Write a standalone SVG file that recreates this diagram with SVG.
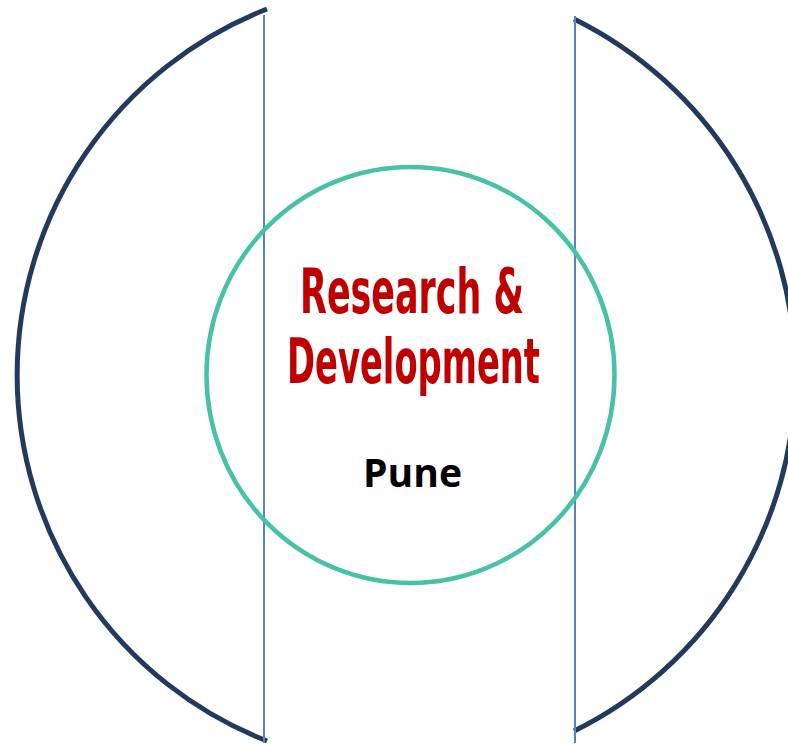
<svg xmlns="http://www.w3.org/2000/svg" width="788" height="744" viewBox="0 0 788 744">
<style>
.arc{fill:none;stroke:#213B5E;stroke-width:5}
.vline{stroke:#5584C0;stroke-width:2}
.ring{fill:none;stroke:#48C2A6;stroke-width:4.5}
.title{font-family:"DejaVu Sans Condensed","Liberation Sans",Arial,sans-serif;font-weight:bold;fill:#C00000;font-size:62px}
.sub{font-family:"Open Sans","Noto Sans",sans-serif;font-weight:bold;fill:#000;font-size:40px}
</style>
<rect width="788" height="744" fill="#fff"/>
<g id="left-arc"><path class="arc" d="M 267 9 A 393 393 0 0 0 267 741"/></g>
<g id="right-arc"><path class="arc" d="M 574 19 A 397 397 0 0 1 574 731"/></g>
<g id="connectors">
<line class="vline" x1="264" y1="15" x2="264" y2="743"/>
<line class="vline" x1="575" y1="16" x2="575" y2="743"/>
</g>
<g id="center">
<ellipse class="ring" cx="410.5" cy="375" rx="204" ry="208"/>
<text class="title" x="412" y="313" text-anchor="middle" textLength="224" lengthAdjust="spacingAndGlyphs">Research &amp;</text>
<text class="title" x="413.5" y="383" text-anchor="middle" textLength="253" lengthAdjust="spacingAndGlyphs">Development</text>
<text class="sub" x="412.5" y="487" text-anchor="middle" textLength="99" lengthAdjust="spacingAndGlyphs">Pune</text>
</g>
</svg>
